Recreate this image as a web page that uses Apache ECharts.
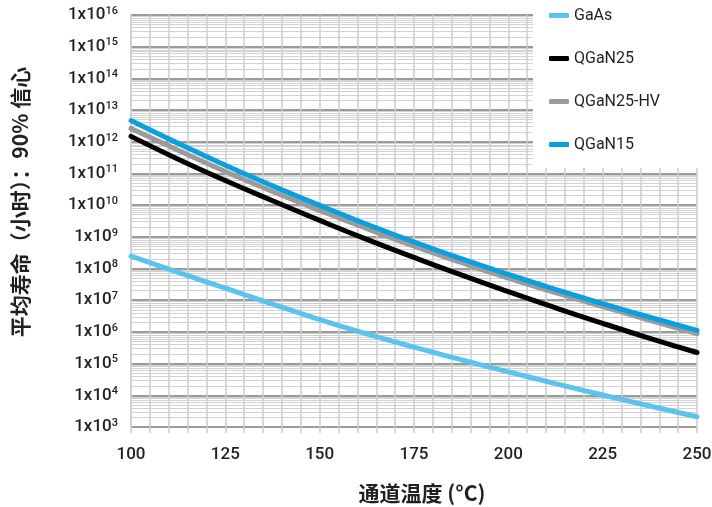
<!DOCTYPE html>
<html>
<head>
<meta charset="utf-8">
<script src="https://cdn.jsdelivr.net/npm/echarts@6/dist/echarts.min.js"></script>
<style>html,body{margin:0;padding:0;background:#fff;overflow:hidden}#c{width:712px;height:507px}</style>
</head>
<body>
<div id="c"></div>
<script>
const temps = [100,112.5,125,137.5,150,162.5,175,187.5,200,212.5,225,237.5,250];
const gaas = [2.45e8,7.6e7,2.4e7,7.6e6,2.45e6,8.7e5,3.3e5,1.32e5,5.5e4,2.34e4,1.02e4,4.6e3,2.1e3];
const qgan25 = [1.48e12,2.82e11,6.0e10,1.38e10,3.3e9,8.3e8,2.24e8,6.3e7,1.86e7,5.75e6,1.86e6,6.3e5,2.24e5];
const qgan25hv = [2.63e12,5.4e11,1.15e11,2.7e10,6.8e9,1.82e9,5.1e8,1.55e8,5.0e7,1.74e7,6.3e6,2.34e6,8.9e5];
const qgan15 = [4.68e12,8.9e11,1.82e11,4.07e10,9.8e9,2.5e9,6.9e8,2.04e8,6.5e7,2.19e7,7.8e6,2.9e6,1.12e6];
const seriesNames = ['GaAs','QGaN25','QGaN25-HV','QGaN15'];
const xTicks = [100,125,150,175,200,225,250];
const yExponents = [3,4,5,6,7,8,9,10,11,12,13,14,15,16];

const colors = ['#5bc3ec','#000000','#9b9b9b','#0aa0dd'];
const font = 'Roboto, "Noto Sans CJK SC", sans-serif';
const cjkFont = '"Noto Sans CJK SC", Roboto, sans-serif';

// minor horizontal grid lines (2..9 x 10^k)
const minorLines = [];
for (let k = yExponents[0]; k < yExponents[yExponents.length-1]; k++) {
  for (let m = 2; m <= 9; m++) minorLines.push({ yAxis: m * Math.pow(10, k) });
}

function pairs(arr){ return temps.map((t,i)=>[t,arr[i]]); }
const dataSets = [gaas, qgan25, qgan25hv, qgan15];

const series = [{
  type:'line', name:'_grid', data:[], silent:true, z:1,
  markLine:{ silent:true, z:1, symbol:['none','none'], label:{show:false},
    lineStyle:{color:'#d2d2d2', width:1, type:'solid'}, animation:false, data:minorLines }
}];
dataSets.forEach((d,i)=>{
  series.push({
    type:'line', name:seriesNames[i], data:pairs(d), smooth:0.5, showSymbol:false,
    lineStyle:{width:5, color:colors[i], cap:'round'}, itemStyle:{color:colors[i]}, z:3+i
  });
});

const chart = echarts.init(document.getElementById('c'), null, {renderer:'canvas'});
chart.setOption({
  animation:false,
  backgroundColor:'#fff',
  grid:{left:131, right:15, top:15, bottom:80, containLabel:false, outerBoundsMode:'none'},
  legend:{
    data:seriesNames.map((n,i)=>({name:n, itemStyle:{color:colors[i]}})),
    orient:'vertical', left:549, top:7, padding:0, itemWidth:20, itemHeight:5, itemGap:26,
    icon:'roundRect', z:10,
    textStyle:{fontFamily:font, fontSize:16, color:'#231f20', lineHeight:17}
  },
  graphic:[{type:'rect', left:533, top:0, shape:{width:179, height:168}, style:{fill:'#fff'}, z:5, silent:true}],
  xAxis:{
    type:'value', min:100, max:250, interval:25,
    name:'通道温度 (°C)', nameLocation:'middle', nameGap:56,
    nameTextStyle:{fontFamily:cjkFont, fontSize:21, fontWeight:'bold', color:'#231f20', padding:[0,0,0,16]},
    axisLine:{show:false},
    axisTick:{show:true, length:6, lineStyle:{color:'#cccccc', width:1.5}},
    minorTick:{show:true, splitNumber:5, length:6, lineStyle:{color:'#cccccc', width:1.5}},
    splitLine:{show:true, lineStyle:{color:'#cccccc', width:1.5}},
    minorSplitLine:{show:true, lineStyle:{color:'#cccccc', width:1.5}},
    axisLabel:{fontFamily:font, fontSize:17, fontWeight:500, color:'#231f20', margin:19,
      formatter:(v)=> xTicks.includes(v) ? String(v) : ''}
  },
  yAxis:{
    type:'log', logBase:10, min:1e3, max:1e16, interval:1,
    name:'平均寿命（小时）：90% 信心', nameLocation:'middle', nameGap:100, nameRotate:90,
    nameTextStyle:{fontFamily:cjkFont, fontSize:21, fontWeight:'bold', color:'#231f20', padding:[0,0,0,38]},
    axisLine:{show:true, lineStyle:{color:'#cccccc', width:1.5}},
    axisTick:{show:false},
    splitLine:{show:true, lineStyle:{color:'#9b9b9b', width:2}},
    axisLabel:{margin:13, fontFamily:font, color:'#231f20',
      formatter:(v)=>{ const e=Math.round(Math.log10(v)); return yExponents.includes(e) ? '{b|1x10}{s|'+e+'}' : ''; },
      rich:{ b:{fontFamily:font, fontSize:17, fontWeight:500, color:'#231f20'},
             s:{fontFamily:font, fontSize:11, fontWeight:500, color:'#231f20', padding:[0,0,8,0]} }
    }
  },
  series: series
});
</script>
</body>
</html>
